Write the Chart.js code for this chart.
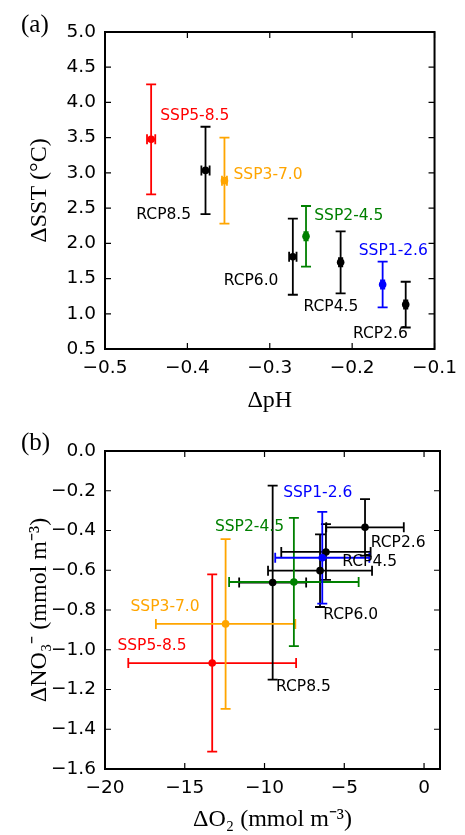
<!DOCTYPE html>
<html>
<head>
<meta charset="utf-8">
<script src="https://cdn.jsdelivr.net/npm/chart.js@4/dist/chart.umd.min.js"></script>
<style>
html,body{margin:0;padding:0;background:#fff}
#wrapA{position:absolute;left:0;top:0;width:465px;height:415px}
#wrapB{position:absolute;left:0;top:415px;width:465px;height:420px}
</style>
</head>
<body>
<div id="wrapA"><canvas id="chartA" width="465" height="415"></canvas></div>
<div id="wrapB"><canvas id="chartB" width="465" height="420"></canvas></div>
<script>
var scenarios = ['SSP5-8.5','RCP8.5','SSP3-7.0','RCP6.0','SSP2-4.5','RCP4.5','SSP1-2.6','RCP2.6']
var scenarioColors = ['#ff0000','#000000','#ffa500','#000000','#008000','#000000','#0000ff','#000000']

// panel a
var dPH = [-0.444, -0.378, -0.355, -0.272, -0.256, -0.214, -0.163, -0.135]
var dPHErr = [0.005, 0.005, 0.003, 0.0045, 0.002, 0.002, 0.002, 0.002]
var dSST = [3.476, 3.035, 2.89, 1.81, 2.10, 1.73, 1.416, 1.13]
var dSSTErr = [0.78, 0.62, 0.61, 0.54, 0.43, 0.44, 0.325, 0.325]
var labelA_x = [-0.433, -0.462, -0.344, -0.356, -0.246, -0.259, -0.192, -0.199]
var labelA_y = [3.81, 2.40, 2.97, 1.46, 2.39, 1.10, 1.89, 0.71]

// panel b
var dO2 = [-13.28, -9.49, -12.44, -6.52, -8.16, -6.15, -6.38, -3.70]
var dO2Err = [5.26, 2.10, 4.37, 3.26, 4.06, 2.80, 2.95, 2.43]
var dNO3 = [-1.067, -0.662, -0.870, -0.602, -0.659, -0.508, -0.537, -0.384]
var dNO3Err = [0.446, 0.488, 0.427, 0.183, 0.323, 0.140, 0.231, 0.142]
var labelB_x = [-19.22, -9.28, -18.40, -6.32, -13.11, -5.13, -8.83, -3.34]
var labelB_y = [-0.981, -1.186, -0.786, -0.825, -0.382, -0.560, -0.210, -0.461]

var tickFont = {family:'DejaVu Sans', size:18.5}
var serif = 'Liberation Serif'

function minus(s){ return String(s).replace('-', '\u2212') }

var errorBars = {
  id:'errorBars',
  beforeDatasetsDraw:function(chart){
    var o = chart.options.plugins.errorBars
    var xs = chart.scales.x, ys = chart.scales.y, ctx = chart.ctx
    ctx.save()
    ctx.lineWidth = 1.8
    for(var i=0;i<o.x.length;i++){
      var px = xs.getPixelForValue(o.x[i]), py = ys.getPixelForValue(o.y[i])
      var x0 = xs.getPixelForValue(o.x[i]-o.xErr[i]), x1 = xs.getPixelForValue(o.x[i]+o.xErr[i])
      var y0 = ys.getPixelForValue(o.y[i]-o.yErr[i]), y1 = ys.getPixelForValue(o.y[i]+o.yErr[i])
      ctx.strokeStyle = o.colors[i]
      ctx.beginPath()
      ctx.moveTo(px,y0); ctx.lineTo(px,y1)
      ctx.moveTo(px-5,y0); ctx.lineTo(px+5,y0)
      ctx.moveTo(px-5,y1); ctx.lineTo(px+5,y1)
      ctx.moveTo(x0,py); ctx.lineTo(x1,py)
      ctx.moveTo(x0,py-5); ctx.lineTo(x0,py+5)
      ctx.moveTo(x1,py-5); ctx.lineTo(x1,py+5)
      ctx.stroke()
    }
    ctx.restore()
  },
  afterDraw:function(chart){
    var o = chart.options.plugins.errorBars
    var xs = chart.scales.x, ys = chart.scales.y, ctx = chart.ctx, a = chart.chartArea
    ctx.save()
    // inward ticks on all four sides + frame
    ctx.strokeStyle = '#000'
    ctx.lineWidth = 1.2
    ctx.beginPath()
    xs.ticks.forEach(function(t){
      var x = xs.getPixelForValue(t.value)
      ctx.moveTo(x,a.bottom); ctx.lineTo(x,a.bottom-6)
      ctx.moveTo(x,a.top); ctx.lineTo(x,a.top+6)
    })
    ys.ticks.forEach(function(t){
      var y = ys.getPixelForValue(t.value)
      ctx.moveTo(a.left,y); ctx.lineTo(a.left+6,y)
      ctx.moveTo(a.right,y); ctx.lineTo(a.right-6,y)
    })
    ctx.stroke()
    ctx.lineWidth = 2
    ctx.strokeRect(a.left,a.top,a.right-a.left,a.bottom-a.top)
    // scenario labels
    ctx.font = '15.5px "DejaVu Sans"'
    ctx.textAlign = 'left'
    ctx.textBaseline = 'middle'
    for(var i=0;i<o.labels.length;i++){
      ctx.fillStyle = o.colors[i]
      ctx.fillText(o.labels[i], xs.getPixelForValue(o.labelX[i]), ys.getPixelForValue(o.labelY[i]))
    }
    // panel letter
    ctx.fillStyle = '#000'
    ctx.font = '25px "' + serif + '"'
    ctx.textAlign = 'left'
    ctx.fillText(o.panel, 21, o.panelY)
    ctx.restore()
  }
}

function makeChart(id, cfg){
  return new Chart(document.getElementById(id), {
    type:'scatter',
    data:{datasets:[{
      data:cfg.x.map(function(v,i){ return {x:v, y:cfg.y[i]} }),
      pointRadius:3.8,
      pointHoverRadius:3.8,
      pointBackgroundColor:scenarioColors,
      pointBorderColor:scenarioColors,
      pointBorderWidth:0
    }]},
    plugins:[errorBars],
    options:{
      responsive:false,
      animation:false,
      events:[],
      layout:{padding:{left:0,right:25,top:cfg.top,bottom:0}},
      plugins:{
        legend:{display:false},
        tooltip:{enabled:false},
        errorBars:{x:cfg.x, y:cfg.y, xErr:cfg.xErr, yErr:cfg.yErr, colors:scenarioColors,
          labels:scenarios, labelX:cfg.labelX, labelY:cfg.labelY, panel:cfg.panel, panelY:cfg.panelY}
      },
      scales:{
        x:{
          type:'linear', min:cfg.xMin, max:cfg.xMax,
          afterFit:function(s){ s.height = 66 },
          grid:{display:false, drawTicks:false},
          border:{display:false},
          ticks:{stepSize:cfg.xStep, includeBounds:false, padding:8, color:'#000', font:tickFont,
            callback:function(v){ return minus(cfg.xFmt(v)) }},
          title:{display:true, text:cfg.xTitle, color:'#000', font:{family:serif, size:24, lineHeight:1},
            padding:{top:0,bottom:cfg.xTitlePad}}
        },
        y:{
          type:'linear', min:cfg.yMin, max:cfg.yMax,
          afterFit:function(s){ s.width = 105 },
          grid:{display:false, drawTicks:false},
          border:{display:false},
          ticks:{stepSize:cfg.yStep, padding:9, color:'#000', font:tickFont,
            callback:function(v){ return minus(v.toFixed(1)) }},
          title:{display:true, text:cfg.yTitle, color:'#000', font:{family:serif, size:24, lineHeight:1},
            padding:{top:28,bottom:0}}
        }
      }
    }
  })
}

makeChart('chartA', {
  x:dPH, y:dSST, xErr:dPHErr, yErr:dSSTErr, labelX:labelA_x, labelY:labelA_y,
  xMin:-0.5, xMax:-0.1, xStep:0.1, yMin:0.5, yMax:5.0, yStep:0.5,
  xFmt:function(v){ return v.toFixed(1) },
  xTitle:'\u0394pH', yTitle:'\u0394SST (\u00b0C)', xTitlePad:2,
  top:32, panel:'(a)', panelY:25
})

makeChart('chartB', {
  x:dO2, y:dNO3, xErr:dO2Err, yErr:dNO3Err, labelX:labelB_x, labelY:labelB_y,
  xMin:-20, xMax:1, xStep:5, yMin:-1.6, yMax:0, yStep:0.2,
  xFmt:function(v){ return v.toFixed(0) },
  xTitle:'\u0394O\u2082 (mmol m\u207b\u00b3)', yTitle:'\u0394NO\u2083\u207b (mmol m\u207b\u00b3)', xTitlePad:3,
  top:36, panel:'(b)', panelY:28
})
</script>
</body>
</html>
